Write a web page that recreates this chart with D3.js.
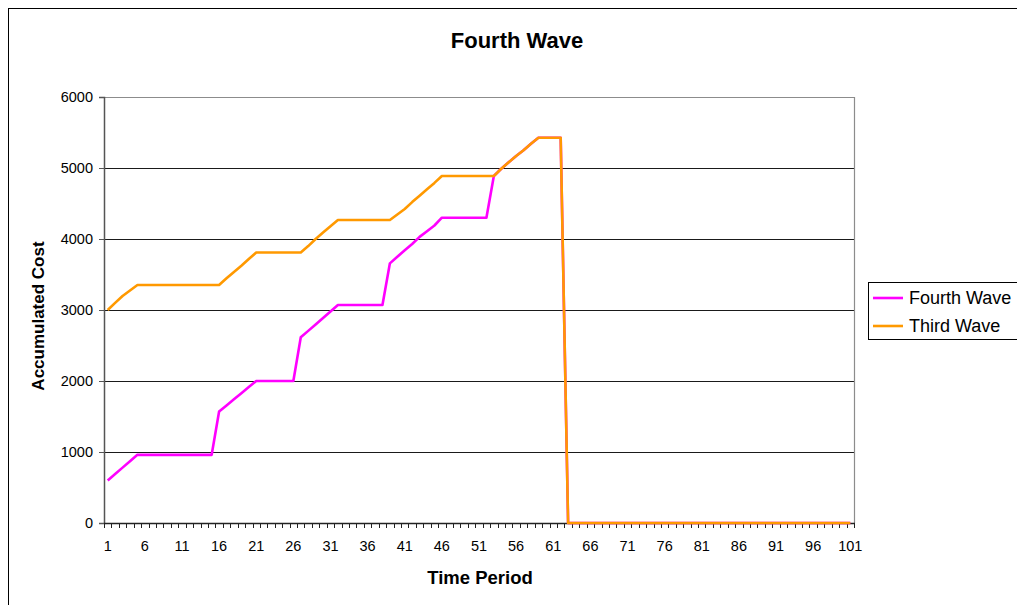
<!DOCTYPE html>
<html>
<head>
<meta charset="utf-8">
<script src="https://cdn.jsdelivr.net/npm/d3@7"></script>
<style>
  html, body { margin: 0; padding: 0; background: #fff; }
  svg { display: block; font-family: "Liberation Sans", Arial, sans-serif; }
</style>
</head>
<body>
<svg id="chart" width="1017" height="605"></svg>
<script>
// Time periods on the category axis
const periods = [
  1, 2, 3, 4, 5, 6, 7, 8, 9, 10, 11, 12, 13, 14, 15, 16, 17, 18, 19, 20,
  21, 22, 23, 24, 25, 26, 27, 28, 29, 30, 31, 32, 33, 34, 35, 36, 37, 38, 39, 40,
  41, 42, 43, 44, 45, 46, 47, 48, 49, 50, 51, 52, 53, 54, 55, 56, 57, 58, 59, 60,
  61, 62, 63, 64, 65, 66, 67, 68, 69, 70, 71, 72, 73, 74, 75, 76, 77, 78, 79, 80,
  81, 82, 83, 84, 85, 86, 87, 88, 89, 90, 91, 92, 93, 94, 95, 96, 97, 98, 99, 100,
  101
];

// Accumulated cost, fourth wave
const fourthWave = [
  600, 690, 780, 870, 960, 960, 960, 960, 960, 960,
  960, 960, 960, 960, 960, 1570, 1656, 1742, 1828, 1914,
  2000, 2000, 2000, 2000, 2000, 2000, 2615, 2706, 2797, 2888,
  2979, 3070, 3070, 3070, 3070, 3070, 3070, 3070, 3657, 3750,
  3840, 3930, 4030, 4110, 4190, 4300, 4300, 4300, 4300, 4300,
  4300, 4300, 4887, 4990, 5080, 5170, 5250, 5340, 5427, 5427,
  5427, 5427, 0, 0, 0, 0, 0, 0, 0, 0,
  0, 0, 0, 0, 0, 0, 0, 0, 0, 0,
  0, 0, 0, 0, 0, 0, 0, 0, 0, 0,
  0, 0, 0, 0, 0, 0, 0, 0, 0, 0,
  0
];

// Accumulated cost, third wave
const thirdWave = [
  3000, 3100, 3197, 3275, 3352, 3352, 3352, 3352, 3352, 3352,
  3352, 3352, 3352, 3352, 3352, 3352, 3446, 3535, 3624, 3718,
  3810, 3810, 3810, 3810, 3810, 3810, 3810, 3900, 4000, 4090,
  4180, 4268, 4268, 4268, 4268, 4268, 4268, 4268, 4268, 4345,
  4423, 4520, 4610, 4700, 4790, 4887, 4887, 4887, 4887, 4887,
  4887, 4887, 4887, 4990, 5080, 5170, 5250, 5340, 5427, 5427,
  5427, 5427, 0, 0, 0, 0, 0, 0, 0, 0,
  0, 0, 0, 0, 0, 0, 0, 0, 0, 0,
  0, 0, 0, 0, 0, 0, 0, 0, 0, 0,
  0, 0, 0, 0, 0, 0, 0, 0, 0, 0,
  0
];

const yTicks = [0, 1000, 2000, 3000, 4000, 5000, 6000];
const xTickLabels = [1, 6, 11, 16, 21, 26, 31, 36, 41, 46, 51, 56, 61, 66, 71, 76, 81, 86, 91, 96, 101];

const seriesList = [
  { name: "Fourth Wave", values: fourthWave, color: "#ff00ff" },
  { name: "Third Wave", values: thirdWave, color: "#ff9900" }
];

const svg = d3.select("#chart");

// Outer chart frame
svg.append("rect")
  .attr("x", 8.5).attr("y", 8.5)
  .attr("width", 1040).attr("height", 640)
  .attr("fill", "#fff").attr("stroke", "#000").attr("stroke-width", 1);

const plot = { left: 104, right: 854, top: 97, bottom: 523 };

const xBand = d3.scaleBand().domain(periods).range([plot.left, plot.right]).paddingInner(0).paddingOuter(0);
const x = d3.scalePoint().domain(periods).range([plot.left, plot.right]).padding(0.5);
const y = d3.scaleLinear().domain([0, 6000]).range([plot.bottom, plot.top]);

// Horizontal gridlines
svg.append("g")
  .selectAll("line")
  .data(yTicks.filter(d => d > 0 && d < 6000))
  .join("line")
  .attr("x1", plot.left).attr("x2", plot.right)
  .attr("y1", d => Math.round(y(d)) + 0.5).attr("y2", d => Math.round(y(d)) + 0.5)
  .attr("stroke", "#1a1a1a").attr("stroke-width", 1);

// Plot area border (top and right)
svg.append("path")
  .attr("d", `M${plot.left},${plot.top + 0.5}H${plot.right + 0.5}V${plot.bottom}`)
  .attr("fill", "none").attr("stroke", "#8c8c8c").attr("stroke-width", 1.2);

// Y axis
const yAxis = d3.axisLeft(y).tickValues(yTicks).tickSize(5).tickPadding(6).tickFormat(d3.format("d"));
const gy = svg.append("g").attr("transform", `translate(${plot.left},0)`).call(yAxis);
gy.select(".domain").attr("stroke", "#555").attr("stroke-width", 1.5);
gy.selectAll(".tick line").attr("stroke", "#555");
gy.selectAll(".tick text").attr("font-size", 14.5).attr("fill", "#000")
  .attr("font-family", "Liberation Sans, Arial, sans-serif");

// X axis: tick marks on category boundaries, labels on every fifth period
const boundaries = periods.map(p => xBand(p)).concat([plot.right]);
const gx = svg.append("g");
gx.selectAll("line.tick")
  .data(boundaries)
  .join("line")
  .attr("class", "tick")
  .attr("x1", d => Math.round(d) + 0.5).attr("x2", d => Math.round(d) + 0.5)
  .attr("y1", plot.bottom).attr("y2", plot.bottom + 5)
  .attr("stroke", "#222").attr("stroke-width", 1);
gx.append("line")
  .attr("x1", plot.left).attr("x2", plot.right + 1)
  .attr("y1", plot.bottom + 0.5).attr("y2", plot.bottom + 0.5)
  .attr("stroke", "#222").attr("stroke-width", 1.5);
gx.selectAll("text")
  .data(xTickLabels)
  .join("text")
  .attr("x", d => x(d))
  .attr("y", plot.bottom + 28)
  .attr("text-anchor", "middle")
  .attr("font-size", 14.5)
  .text(d => d);

// Series lines
const line = d3.line()
  .x((d, i) => x(periods[i]))
  .y(d => y(d));

svg.append("g")
  .selectAll("path")
  .data(seriesList)
  .join("path")
  .attr("d", s => line(s.values))
  .attr("fill", "none")
  .attr("stroke", s => s.color)
  .attr("stroke-width", 2.6)
  .attr("stroke-linejoin", "round");

// Titles
svg.append("text")
  .attr("x", 517).attr("y", 48)
  .attr("text-anchor", "middle")
  .attr("font-size", 22).attr("font-weight", "bold")
  .text("Fourth Wave");

svg.append("text")
  .attr("x", 480).attr("y", 584)
  .attr("text-anchor", "middle")
  .attr("font-size", 18.5).attr("font-weight", "bold")
  .text("Time Period");

svg.append("text")
  .attr("transform", "translate(44,316) rotate(-90)")
  .attr("text-anchor", "middle")
  .attr("font-size", 17).attr("font-weight", "bold")
  .text("Accumulated Cost");

// Legend
const legend = svg.append("g").attr("transform", "translate(868,282)");
legend.append("rect")
  .attr("x", 0.5).attr("y", 0.5).attr("width", 160).attr("height", 57)
  .attr("fill", "#fff").attr("stroke", "#000").attr("stroke-width", 1);
const items = legend.selectAll("g.item")
  .data(seriesList)
  .join("g")
  .attr("class", "item")
  .attr("transform", (d, i) => `translate(0,${16 + i * 28})`);
items.append("line")
  .attr("x1", 5).attr("x2", 35).attr("y1", 0).attr("y2", 0)
  .attr("stroke", d => d.color).attr("stroke-width", 2.6);
items.append("text")
  .attr("x", 41).attr("y", 6)
  .attr("font-size", 18)
  .text(d => d.name);
</script>
</body>
</html>
